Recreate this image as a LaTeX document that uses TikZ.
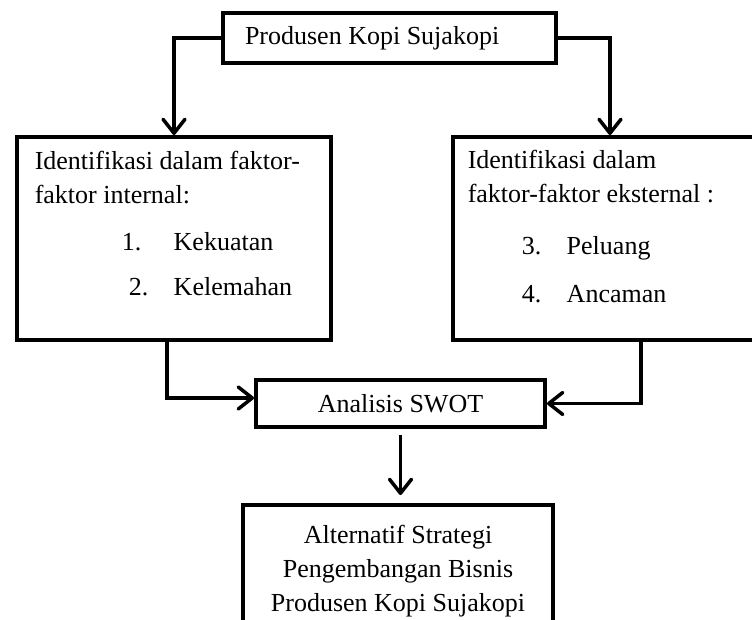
\documentclass[tikz,border=0pt]{standalone}
\usepackage{fontspec}
\setmainfont{Liberation Serif}
\usetikzlibrary{arrows.meta,fit}

\begin{document}
\begin{tikzpicture}[x=1pt, y=-1pt, line width=3.5pt, >={Straight Barb[length=14pt,width=22pt,round]}]
\tikzstyle{box}=[rectangle,draw=black,line width=4pt,inner sep=0pt]
\tikzstyle{txt}=[font=\fontsize{26}{34}\selectfont,align=flush left,inner sep=0pt]
\useasboundingbox (0,0) rectangle (752,620);
\clip (0,0) rectangle (752,620);
\node[box, txt, minimum width=333pt, minimum height=50pt, text width=289pt] (P) at (389.5,38) {Produsen Kopi Sujakopi};
\node[txt, anchor=north west] (Itxt) at (33,149)
  {Identifikasi dalam faktor-\\faktor internal:\\[13pt]
   \hspace*{87pt}\makebox[52pt][l]{1.}Kekuatan\\[11pt]
   \hspace*{94pt}\makebox[45pt][l]{2.}Kelemahan};
\node[box, fit={(17,137) (331,340)}] (I) {};
\node[txt, anchor=north west] (Etxt) at (466,148)
  {Identifikasi dalam\\faktor-faktor eksternal :\\[18pt]
   \hspace*{54pt}\makebox[45pt][l]{3.}Peluang\\[14pt]
   \hspace*{54pt}\makebox[45pt][l]{4.}Ancaman};
\node[box, fit={(453,137) (767,340)}] (E) {};
\node[box, txt, minimum width=289pt, minimum height=47pt] (S) at (400.5,403.5) {Analisis SWOT};
\node[txt, align=center, anchor=north] (Atxt) at (398,523)
  {Alternatif Strategi\\Pengembangan Bisnis\\Produsen Kopi Sujakopi};
\node[box, fit={(243,505) (553,660)}] (A) {};
\draw[->] (P.west) -| (I.north);
\draw[->] (P.east) -| (E.north);
\draw[->] ([xshift=-7pt]I.south) |- ([yshift=5.5pt]S.west);
\draw[->] ([xshift=31pt]E.south) |- (S.east);
\draw[->, shorten <=6pt, shorten >=8pt] (S.south) -- (S.south |- A.north);
\end{tikzpicture}
\end{document}
